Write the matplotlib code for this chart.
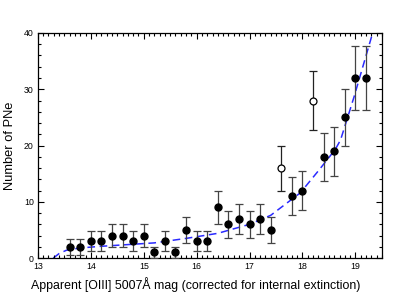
import matplotlib
matplotlib.use("Agg")
import matplotlib.pyplot as plt
from matplotlib.ticker import MultipleLocator

plt.rcParams['font.family'] = ['Liberation Sans', 'DejaVu Sans']

# filled points
mag_f = [13.6, 13.8, 14.0, 14.2, 14.4, 14.6, 14.8, 15.0, 15.2, 15.4, 15.6, 15.8,
         16.0, 16.2, 16.4, 16.6, 16.8, 17.0, 17.2, 17.4, 17.8, 18.0, 18.4, 18.6,
         18.8, 19.0, 19.2]
num_f = [2, 2, 3, 3, 4, 4, 3, 4, 1, 3, 1, 5,
         3, 3, 9, 6, 7, 6, 7, 5, 11, 12, 18, 19,
         25, 32, 32]
err_f = [1.41, 1.41, 1.73, 1.73, 2.0, 2.0, 1.73, 2.0, 1.0, 1.73, 1.0, 2.24,
         1.73, 1.73, 3.0, 2.45, 2.65, 2.45, 2.65, 2.24, 3.32, 3.46, 4.24, 4.36,
         5.0, 5.66, 5.66]

# open points
mag_o = [17.6, 18.2]
num_o = [16, 28]
err_o = [4.0, 5.29]

# model curve
curve_x = [13.29, 13.4, 13.54, 13.8, 14.2, 14.7, 15.2, 15.8, 16.4, 17.0, 17.4,
           17.96, 18.3, 18.62, 18.72, 18.97, 19.32]
curve_y = [0.0, 0.8, 1.4, 1.8, 2.1, 2.4, 2.7, 3.5, 4.4, 6.0, 7.6,
           11.6, 15.5, 19.3, 21.0, 28.5, 39.8]

fig = plt.figure(figsize=(3.99, 2.97), dpi=100)
ax = fig.add_axes([0.095, 0.131, 0.862, 0.758])

ax.plot(curve_x, curve_y, color='#2a2aff', lw=1.1, dashes=(5, 3), zorder=1)

ax.errorbar(mag_f, num_f, yerr=err_f, fmt='o', ms=5, mfc='black', mec='black',
            ecolor='#444444', elinewidth=0.9, capsize=3.2, capthick=0.9, zorder=3)
ax.errorbar(mag_o, num_o, yerr=err_o, fmt='o', ms=5, mfc='white', mec='black',
            mew=0.9, ecolor='#222222', elinewidth=0.9, capsize=3.2, capthick=0.9,
            zorder=3)

ax.set_xlim(13, 19.5)
ax.set_ylim(0, 40)
ax.xaxis.set_major_locator(MultipleLocator(1))
ax.xaxis.set_minor_locator(MultipleLocator(0.1))
ax.yaxis.set_major_locator(MultipleLocator(10))
ax.yaxis.set_minor_locator(MultipleLocator(2))
ax.tick_params(which='both', direction='in', top=True, right=True,
               labelsize=6.3, width=0.8, pad=3)
ax.tick_params(which='major', length=4)
ax.tick_params(which='minor', length=2.2)
for s in ax.spines.values():
    s.set_linewidth(0.9)

ax.set_xlabel('Apparent [OIII] 5007Å mag (corrected for internal extinction)',
              fontsize=8.9, labelpad=5)
ax.xaxis.set_label_coords(0.459, -0.085)
ax.xaxis.get_label().set_verticalalignment('top')
ax.set_ylabel('Number of PNe', fontsize=9.3, labelpad=6)

fig.savefig('out.png', dpi=100)
